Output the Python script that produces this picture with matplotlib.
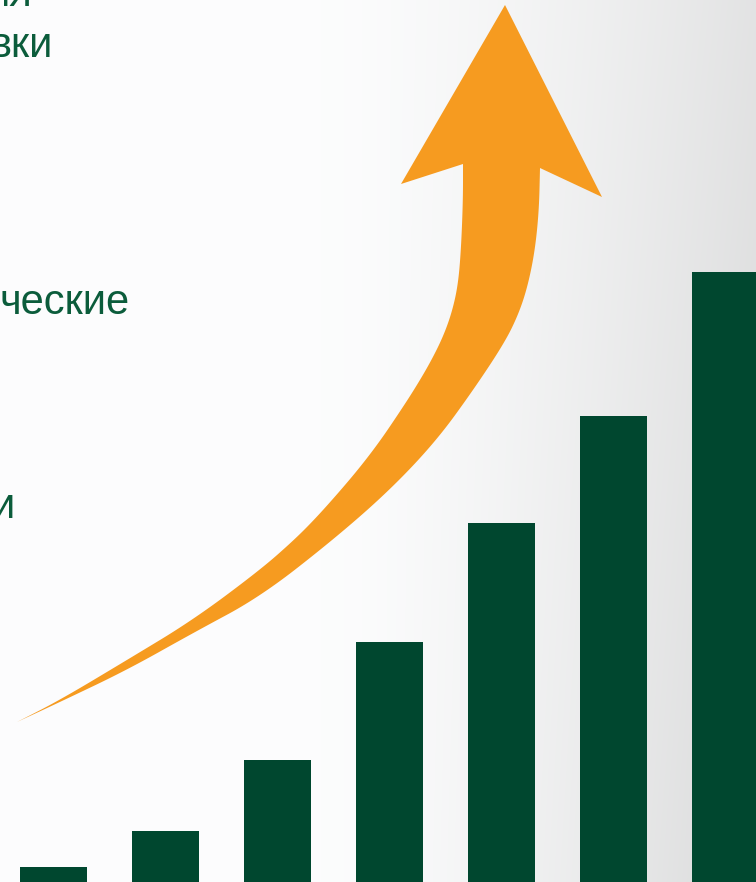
import numpy as np
import matplotlib.pyplot as plt
from matplotlib.patches import Polygon

# bar heights (arbitrary units, scale 0..882)
bar_values = [15, 51, 122, 240, 359, 466, 610]
bar_index = np.arange(len(bar_values))

# fragments of slide text cut at the left edge
text_lines = ["ия", "вки", "ческие", "и"]
text_right = [32, 53, 130, 14]
text_base = [6, 57, 314, 518]

bar_color = '#00472f'
text_color = '#0b5c3b'
arrow_color = '#f69b20'

W, H = 756, 882


def chaikin(pts, n=4):
    # corner cutting, keeps end points
    p = np.array(pts, dtype=float)
    for _ in range(n):
        q = [p[0]]
        for a, b in zip(p[:-1], p[1:]):
            q.append(0.75 * a + 0.25 * b)
            q.append(0.25 * a + 0.75 * b)
        q.append(p[-1])
        p = np.array(q)
    return p


fig = plt.figure(figsize=(W / 100, H / 100), dpi=100)

# background gradient (white left -> light grey right)
ax = fig.add_axes([0, 0, 1, 1])
xx = np.linspace(0, 1, 400)
yy = np.linspace(0, 1, 400)
X, Y = np.meshgrid(xx, yy)
shade = 0.993 - 0.10 * np.clip((X - 0.40) / 0.60, 0, 1) ** 1.5 - 0.035 * Y * np.clip((X - 0.5) / 0.5, 0, 1)
bg = np.dstack([shade * 0.996, shade * 0.998, shade * 1.0])
bg = np.clip(bg, 0, 1)
ax.imshow(bg, extent=[0, W, H, 0], aspect='auto', interpolation='bilinear')
ax.set_xlim(0, W)
ax.set_ylim(H, 0)
ax.axis('off')

# curved arrow: shaft edges (tail -> head) plus head, one outline
left_edge = [(17, 722), (60, 700), (127, 660), (193, 620), (260, 570), (293, 541),
             (315, 519), (340, 491), (361, 466), (380, 441), (397, 416), (414, 390),
             (430, 363), (443, 337), (452, 312), (458, 285), (461, 250), (463, 200),
             (463, 164)]
right_edge = [(540, 168), (539, 210), (535, 250), (528, 285), (519, 313), (505, 342),
              (474, 389), (437, 440), (390, 490), (333, 540), (260, 597), (193, 633),
              (127, 670), (60, 702), (17, 722)]
head_left = [(401, 184), (505, 5), (602, 197)]
outline = np.vstack([chaikin(left_edge), head_left, chaikin(right_edge)])
ax.add_patch(Polygon(outline, closed=True, fc=arrow_color, ec='none'))

for t, xr, yb in zip(text_lines, text_right, text_base):
    ax.text(xr, yb, t, ha='right', va='baseline', fontsize=30,
            family='Liberation Sans', color=text_color)

# bars
bx = fig.add_axes([0, 0, 1, 1])
bx.patch.set_alpha(0)
slope, offset = 111.96, 53.5
bx.set_xlim(-offset / slope, (W - offset) / slope)
bx.set_ylim(0, H)
bx.bar(bar_index, bar_values, width=67 / slope, color=bar_color)
bx.axis('off')

fig.savefig('out.png', dpi=100)
